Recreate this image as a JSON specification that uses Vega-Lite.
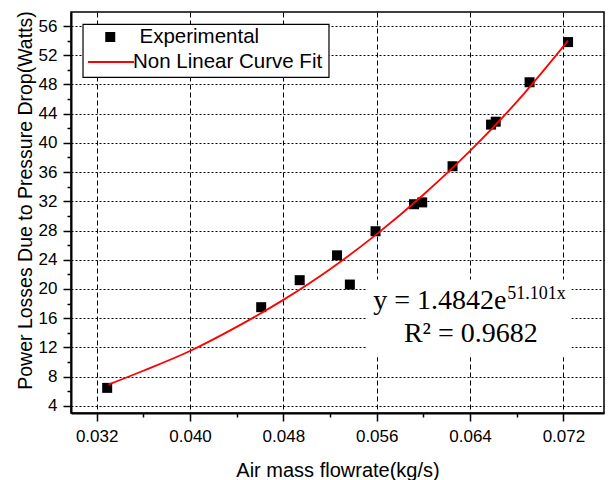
{
  "$schema": "https://vega.github.io/schema/vega-lite/v6.json",
  "width": 533,
  "height": 401,
  "autosize": {"type": "none"},
  "padding": {"left": 71, "top": 12, "right": 4, "bottom": 67},
  "background": "white",
  "config": {
    "view": {"stroke": "black", "strokeWidth": 1.5},
    "font": "Liberation Sans",
    "axis": {
      "grid": true,
      "gridColor": "black",
      "gridWidth": 1,
      "tickColor": "black",
      "tickWidth": 1.5,
      "domainColor": "black",
      "domainWidth": 2,
      "labelFont": "Liberation Sans",
      "labelFontSize": 17,
      "labelColor": "black",
      "labelFlush": false,
      "labelOverlap": false,
      "titleFont": "Liberation Sans",
      "titleFontWeight": "normal",
      "titleColor": "black"
    }
  },
  "datasets": {
    "experimental": [
      {"flow": 0.0329, "power": 6.45, "series": "Experimental"},
      {"flow": 0.0461, "power": 17.5, "series": "Experimental"},
      {"flow": 0.0494, "power": 21.2, "series": "Experimental"},
      {"flow": 0.0526, "power": 24.6, "series": "Experimental"},
      {"flow": 0.0537, "power": 20.6, "series": "Experimental"},
      {"flow": 0.0559, "power": 27.9, "series": "Experimental"},
      {"flow": 0.0592, "power": 31.6, "series": "Experimental"},
      {"flow": 0.0599, "power": 31.85, "series": "Experimental"},
      {"flow": 0.0625, "power": 36.8, "series": "Experimental"},
      {"flow": 0.0658, "power": 42.5, "series": "Experimental"},
      {"flow": 0.0662, "power": 42.9, "series": "Experimental"},
      {"flow": 0.0691, "power": 48.3, "series": "Experimental"},
      {"flow": 0.0724, "power": 53.8, "series": "Experimental"}
    ],
    "fit": [
      {"flow": 0.0330, "power": 6.9, "curve": "Non Linear Curve Fit"},
      {"flow": 0.0360, "power": 8.8, "curve": "Non Linear Curve Fit"},
      {"flow": 0.0400, "power": 11.5, "curve": "Non Linear Curve Fit"},
      {"flow": 0.0440, "power": 14.8, "curve": "Non Linear Curve Fit"},
      {"flow": 0.0480, "power": 18.5, "curve": "Non Linear Curve Fit"},
      {"flow": 0.0520, "power": 22.7, "curve": "Non Linear Curve Fit"},
      {"flow": 0.0560, "power": 27.5, "curve": "Non Linear Curve Fit"},
      {"flow": 0.0600, "power": 32.9, "curve": "Non Linear Curve Fit"},
      {"flow": 0.0640, "power": 38.9, "curve": "Non Linear Curve Fit"},
      {"flow": 0.0680, "power": 45.6, "curve": "Non Linear Curve Fit"},
      {"flow": 0.0724, "power": 54.0, "curve": "Non Linear Curve Fit"}
    ]
  },
  "layer": [
    {
      "data": {"name": "experimental"},
      "mark": {"type": "point", "filled": true, "size": 100, "opacity": 1, "color": "black"},
      "encoding": {
        "x": {
          "field": "flow",
          "type": "quantitative",
          "scale": {"domain": [0.0298, 0.07548], "nice": false, "zero": false},
          "axis": {
            "values": [0.032, 0.036, 0.040, 0.044, 0.048, 0.052, 0.056, 0.060, 0.064, 0.068, 0.072],
            "tickCount": 100,
            "labelExpr": "round(datum.value*250) % 2 == 0 ? format(datum.value, '.3f') : ''",
            "tickSize": {"condition": {"test": "round(datum.value*250) % 2 == 1", "value": 4}, "value": 8},
            "gridOpacity": {"condition": {"test": "round(datum.value*250) % 2 == 1", "value": 0}, "value": 1},
            "gridDash": [5, 3],
            "labelBaseline": "alphabetic",
            "labelPadding": 20.7,
            "labelOverlap": false,
            "title": "Air mass flowrate(kg/s)",
            "titleFontSize": 20,
            "titleBaseline": "alphabetic",
            "titleY": 63
          }
        },
        "y": {
          "field": "power",
          "type": "quantitative",
          "scale": {"domain": [3.01, 57.92], "nice": false, "zero": false},
          "axis": {
            "values": [4, 6, 8, 10, 12, 14, 16, 18, 20, 22, 24, 26, 28, 30, 32, 34, 36, 38, 40, 42, 44, 46, 48, 50, 52, 54, 56],
            "tickCount": 100,
            "labelExpr": "round(datum.value/2) % 2 == 0 ? format(datum.value, 'd') : ''",
            "tickSize": {"condition": {"test": "round(datum.value/2) % 2 == 1", "value": 4}, "value": 8},
            "gridOpacity": {"condition": {"test": "round(datum.value/2) % 2 == 1", "value": 0}, "value": 1},
            "gridDash": [2, 2],
            "labelPadding": 6,
            "labelBaseline": "middle",
            "labelOverlap": false,
            "title": "Power Losses Due to Pressure Drop(Watts)",
            "titleFontSize": 19.5,
            "titleAngle": 270,
            "titleBaseline": "alphabetic",
            "titleX": -40,
            "titleY": 188
          }
        },
        "shape": {
          "field": "series",
          "type": "nominal",
          "scale": {"domain": ["Experimental"], "range": ["square"]},
          "legend": {
            "title": null,
            "orient": "none",
            "legendX": 29,
            "legendY": 14.5,
            "padding": 0,
            "symbolSize": 100,
            "symbolFillColor": "black",
            "symbolStrokeWidth": 0,
            "symbolOpacity": 1,
            "clipHeight": 21,
            "labelOffset": 19,
            "labelFont": "Liberation Sans",
            "labelFontSize": 20.5,
            "labelColor": "black",
            "labelLimit": 400
          }
        }
      }
    },
    {
      "data": {"name": "fit"},
      "mark": {"type": "line", "strokeWidth": 1.8, "interpolate": "monotone"},
      "encoding": {
        "x": {"field": "flow", "type": "quantitative", "scale": {"domain": [0.0298, 0.07548], "nice": false, "zero": false}},
        "y": {"field": "power", "type": "quantitative", "scale": {"domain": [3.01, 57.92], "nice": false, "zero": false}},
        "color": {
          "field": "curve",
          "type": "nominal",
          "scale": {"domain": ["Non Linear Curve Fit"], "range": ["red"]},
          "legend": {
            "title": null,
            "orient": "none",
            "legendX": 16,
            "legendY": 39.5,
            "padding": 0,
            "symbolType": "stroke",
            "symbolSize": 2116,
            "symbolStrokeWidth": 2,
            "clipHeight": 21,
            "labelOffset": -2,
            "labelFont": "Liberation Sans",
            "labelFontSize": 20.5,
            "labelColor": "black",
            "labelLimit": 400
          }
        }
      }
    },
    {
      "data": {"values": [{}]},
      "mark": {"type": "rect", "fill": "white", "stroke": "black", "strokeWidth": 1.2},
      "encoding": {
        "x": {"datum": 0.03083, "type": "quantitative", "scale": {"domain": [0.0298, 0.07548], "nice": false, "zero": false}},
        "x2": {"datum": 0.05191},
        "y": {"datum": 56.23, "type": "quantitative", "scale": {"domain": [3.01, 57.92], "nice": false, "zero": false}},
        "y2": {"datum": 48.98}
      }
    },
    {
      "data": {"values": [{}]},
      "mark": {"type": "rect", "fill": "white"},
      "encoding": {
        "x": {"datum": 0.0551, "type": "quantitative", "scale": {"domain": [0.0298, 0.07548], "nice": false, "zero": false}},
        "x2": {"datum": 0.0727},
        "y": {"datum": 21.3, "type": "quantitative", "scale": {"domain": [3.01, 57.92], "nice": false, "zero": false}},
        "y2": {"datum": 10.63}
      }
    },
    {
      "data": {"values": [{}]},
      "mark": {"type": "text", "text": "y = 1.4842e", "font": "Liberation Serif", "fontSize": 28, "align": "left", "baseline": "alphabetic", "color": "black"},
      "encoding": {
        "x": {"datum": 0.05571, "type": "quantitative", "scale": {"domain": [0.0298, 0.07548], "nice": false, "zero": false}},
        "y": {"datum": 17.3, "type": "quantitative", "scale": {"domain": [3.01, 57.92], "nice": false, "zero": false}}
      }
    },
    {
      "data": {"values": [{}]},
      "mark": {"type": "text", "text": "51.101x", "font": "Liberation Serif", "fontSize": 18, "align": "left", "baseline": "alphabetic", "color": "black"},
      "encoding": {
        "x": {"datum": 0.06719, "type": "quantitative", "scale": {"domain": [0.0298, 0.07548], "nice": false, "zero": false}},
        "y": {"datum": 18.58, "type": "quantitative", "scale": {"domain": [3.01, 57.92], "nice": false, "zero": false}}
      }
    },
    {
      "data": {"values": [{}]},
      "mark": {"type": "text", "text": "R² = 0.9682", "font": "Liberation Serif", "fontSize": 28, "align": "center", "baseline": "alphabetic", "color": "black"},
      "encoding": {
        "x": {"datum": 0.06407, "type": "quantitative", "scale": {"domain": [0.0298, 0.07548], "nice": false, "zero": false}},
        "y": {"datum": 12.73, "type": "quantitative", "scale": {"domain": [3.01, 57.92], "nice": false, "zero": false}}
      }
    }
  ]
}
